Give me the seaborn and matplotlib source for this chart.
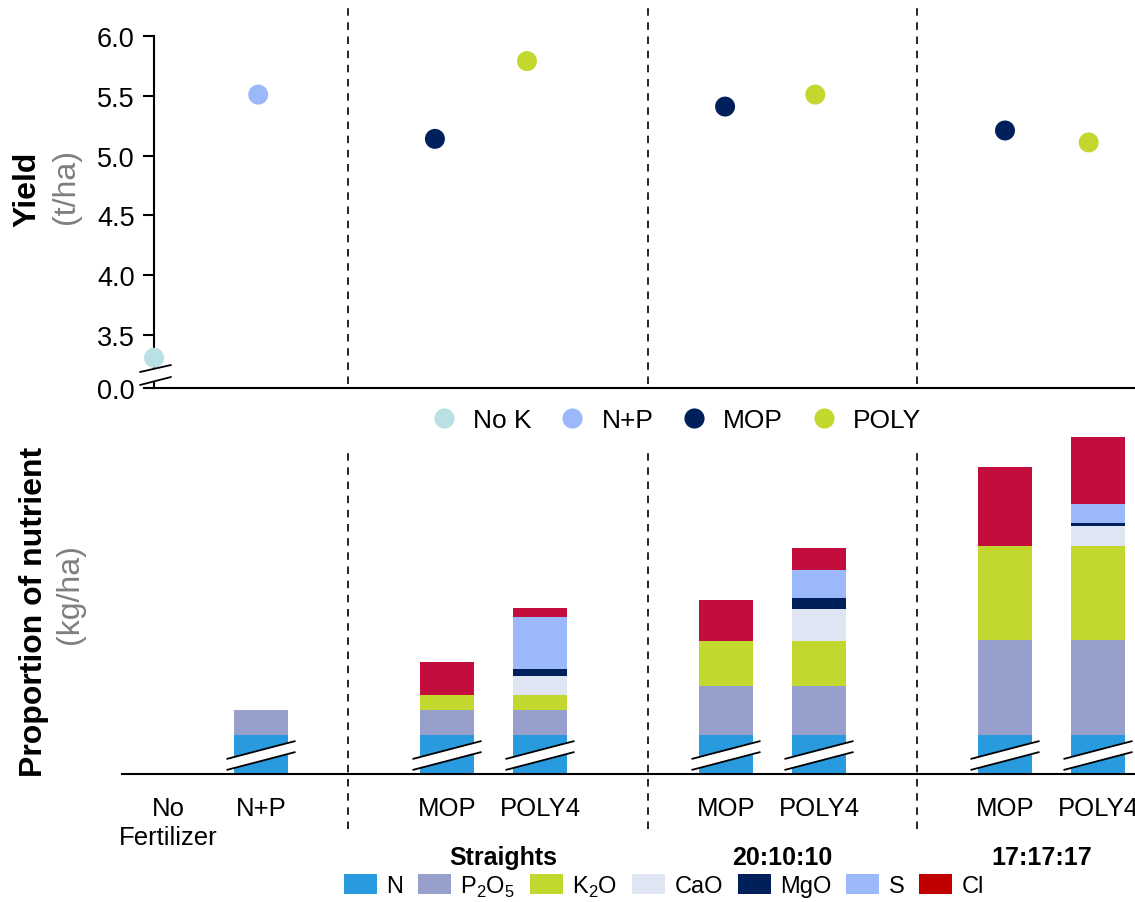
import matplotlib
matplotlib.use("Agg")
import matplotlib.pyplot as plt
import seaborn as sns
import pandas as pd
from matplotlib.lines import Line2D
from matplotlib.patches import Patch, Polygon

# --- data ---
yield_names = ["No K", "N+P", "MOP", "POLY", "MOP", "POLY", "MOP", "POLY"]
yield_pos = [-0.15, 0.97, 2.87, 3.86, 5.99, 6.96, 9.0, 9.9]
yield_vals = [3.31, 5.51, 5.14, 5.79, 5.41, 5.51, 5.21, 5.11]

bar_labels = ["No\nFertilizer", "N+P", "MOP", "POLY4", "MOP", "POLY4", "MOP", "POLY4"]
bar_pos = [0, 1, 3, 4, 6, 7, 9, 10]
groups = ["Straights", "20:10:10", "17:17:17"]
group_pos = [3.6, 6.6, 9.4]

nutrients = ["N", "P$_2$O$_5$", "K$_2$O", "CaO", "MgO", "S", "Cl"]
N = [0, 39, 39, 39, 39, 39, 39, 39]
P2O5 = [0, 25, 25, 25, 49, 49, 95, 95]
K2O = [0, 0, 15, 15, 45, 45, 94, 94]
CaO = [0, 0, 0, 19, 0, 32, 0, 20]
MgO = [0, 0, 0, 7, 0, 11, 0, 3.5]
S = [0, 0, 0, 52, 0, 28, 0, 19]
Cl = [0, 0, 33, 9, 41, 22, 79, 67]

yield_colors = {"No K": "#B9E0E3", "N+P": "#9BB8FB", "MOP": "#00205B", "POLY": "#C3D82E"}
nut_colors = ["#2A9ADE", "#97A0CC", "#C3D82E", "#DFE5F3", "#00205B", "#9BB8FB", "#C30D3C"]
legend_colors = nut_colors[:-1] + ["#C00000"]

sns.set_theme(style="white")
plt.rcParams["font.family"] = ["Liberation Sans", "DejaVu Sans"]
plt.rcParams["mathtext.fontset"] = "custom"
plt.rcParams["mathtext.rm"] = "Liberation Sans"
plt.rcParams["text.color"] = "black"

W, H = 1135, 903
fig = plt.figure(figsize=(W / 100, H / 100), dpi=100)

def fx(px):
    return px / W

def fy(py):
    return (H - py) / H

unit = 93.0  # px per position unit
x0 = 168.0   # px of position 0

# top axes: yield
ax1 = fig.add_axes([fx(154), fy(389), fx(W + 20) - fx(154), fy(37) - fy(389)])
ax1.set_xlim((154 - x0) / unit, (W + 20 - x0) / unit)
ybot = 3.057
ax1.set_ylim(ybot, 6.0)

df_y = pd.DataFrame({"pos": yield_pos, "val": yield_vals, "trt": yield_names})
sns.scatterplot(data=df_y, x="pos", y="val", hue="trt", palette=yield_colors,
                s=207, linewidth=0, clip_on=False, zorder=5, legend=False, ax=ax1)

ax1.set_yticks([ybot, 3.5, 4.0, 4.5, 5.0, 5.5, 6.0])
ax1.set_yticklabels(["0.0", "3.5", "4.0", "4.5", "5.0", "5.5", "6.0"], fontsize=19.5)
ax1.set_xticks([])
ax1.set_xlabel("")
ax1.set_ylabel("")
for s in ["top", "right"]:
    ax1.spines[s].set_visible(False)
for s in ["left", "bottom"]:
    ax1.spines[s].set_linewidth(1.5)
    ax1.spines[s].set_color("black")
ax1.tick_params(axis="y", length=8, width=1.5, left=True, pad=6, colors="black")

dividers = [1.935, 5.161, 8.054]
for d in dividers:
    ax1.axvline(d, ymin=0.011, ymax=1.082, color="black", lw=1.2,
                ls=(0, (4.5, 4)), clip_on=False, zorder=1)

# axis break on the yield axis
brk = Polygon([(fx(140), fy(373)), (fx(171), fy(366)), (fx(171), fy(378)), (fx(140), fy(386))],
              closed=True, facecolor="white", edgecolor="none", transform=fig.transFigure, zorder=6)
fig.add_artist(brk)
fig.add_artist(Line2D([fx(140), fx(171)], [fy(373), fy(366)], color="black", lw=1.3,
                      transform=fig.transFigure, zorder=7))
fig.add_artist(Line2D([fx(140), fx(171)], [fy(386), fy(378)], color="black", lw=1.3,
                      transform=fig.transFigure, zorder=7))
ax1.collections[0].set_zorder(8)

# bottom axes: stacked nutrients
ytop_px = 430
ax2 = fig.add_axes([fx(122), fy(775), fx(W + 20) - fx(122), fy(ytop_px) - fy(775)])
layers = [N, P2O5, K2O, CaO, MgO, S, Cl]
rows = []
for i, p in enumerate(bar_pos):
    cum = 0
    for j, lay in enumerate(layers):
        cum += lay[i]
        rows.append({"pos": p, "layer": j, "cum": cum})
df_b = pd.DataFrame(rows)
df_b = df_b[df_b["pos"] > 0]

# draw cumulative totals from the top layer down so each layer shows as a segment
for j in reversed(range(len(layers))):
    sub = df_b[df_b["layer"] == j]
    sns.barplot(data=sub, x="pos", y="cum", native_scale=True, width=0.59,
                color=nut_colors[j], saturation=1, linewidth=0, errorbar=None, ax=ax2)

ax2.set_xlim((122 - x0) / unit, (W + 20 - x0) / unit)
ytop = 775 - ytop_px
ax2.set_ylim(0, ytop)
ax2.set_yticks([])
ax2.set_xticks(bar_pos)
ax2.set_xticklabels(bar_labels, fontsize=18.5, linespacing=1.25)
ax2.tick_params(axis="x", length=0, pad=16, colors="black")
ax2.set_xlabel("")
ax2.set_ylabel("")
for s in ["top", "right", "left"]:
    ax2.spines[s].set_visible(False)
ax2.spines["bottom"].set_linewidth(1.5)
ax2.spines["bottom"].set_color("black")

for d in dividers:
    ax2.axvline(d, ymin=-55 / ytop, ymax=325 / ytop, color="black", lw=1.2,
                ls=(0, (4.5, 4)), clip_on=False, zorder=1)

# break marks on the N segment
hw = 0.371
for p in bar_pos[1:]:
    ax2.add_patch(Polygon([(p - hw, 15), (p + hw, 33), (p + hw, 22), (p - hw, 4)],
                          closed=True, facecolor="white", edgecolor="none", zorder=5))
    ax2.plot([p - hw, p + hw], [15, 33], color="black", lw=1.3, zorder=6, solid_capstyle="butt")
    ax2.plot([p - hw, p + hw], [4, 22], color="black", lw=1.3, zorder=6, solid_capstyle="butt")

for g, gp in zip(groups, group_pos):
    ax2.text(gp, -83, g, ha="center", va="center", fontsize=18, fontweight="bold",
             color="black", clip_on=False)

# axis titles
fig.text(fx(27), fy(189), "Yield", rotation=90, ha="center", va="center",
         fontsize=23, fontweight="bold", color="black")
fig.text(fx(66), fy(186), "(t/ha)", rotation=90, ha="center", va="center",
         fontsize=23, color="#7F7F7F")
fig.text(fx(34), fy(612), "Proportion of nutrient", rotation=90, ha="center", va="center",
         fontsize=23, fontweight="bold", color="black")
fig.text(fx(70), fy(594), "(kg/ha)", rotation=90, ha="center", va="center",
         fontsize=23, color="#7F7F7F")

# legends
yh = [Line2D([], [], marker="o", ls="none", markersize=14.5, markeredgewidth=0,
             color=yield_colors[k]) for k in ["No K", "N+P", "MOP", "POLY"]]
fig.legend(yh, ["No K", "N+P", "MOP", "POLY"], loc="center", bbox_to_anchor=(fx(676), fy(421)),
           ncol=4, frameon=False, fontsize=19, handlelength=1.0, handletextpad=0.6,
           columnspacing=1.05, borderpad=0)

nh = [Patch(facecolor=c, edgecolor="none") for c in legend_colors]
fig.legend(nh, nutrients, loc="center", bbox_to_anchor=(fx(664), fy(887)),
           ncol=7, frameon=False, fontsize=17, handlelength=1.4, handleheight=0.95,
           handletextpad=0.4, columnspacing=0.62, borderpad=0)

fig.savefig("out.png", dpi=100)
